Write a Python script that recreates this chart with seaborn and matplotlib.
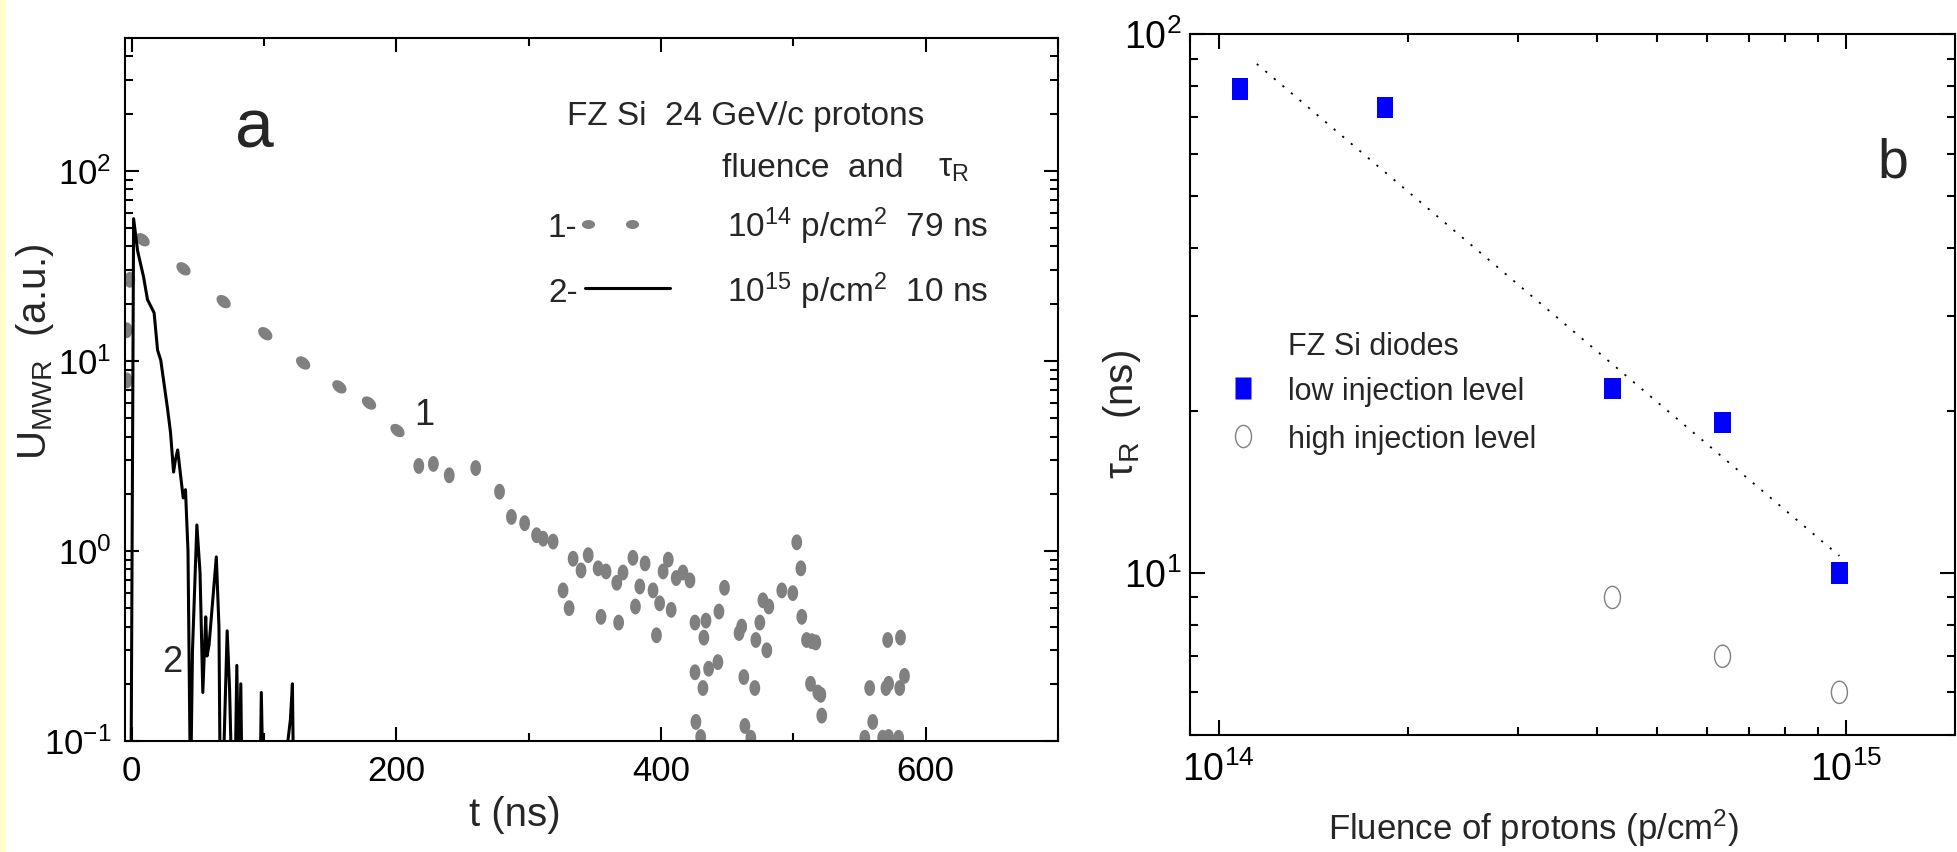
import numpy as np
import matplotlib
matplotlib.use("Agg")
import matplotlib.pyplot as plt
import seaborn as sns
from matplotlib.path import Path
from matplotlib.markers import MarkerStyle
from matplotlib.transforms import Affine2D
from matplotlib.lines import Line2D
from matplotlib.patches import Rectangle
from matplotlib.ticker import MultipleLocator, LogLocator, NullFormatter, FuncFormatter

# ---------------- data (panel a) ----------------
# curve 2 : 1e15 p/cm2 (solid black)
t_black = [-0.5, 1.5, 4.5, 9, 12, 17, 19.6, 22, 27, 29.4, 31.7, 33, 34.8, 37, 39, 40.7,
           42.6, 44.5, 46, 49.3, 51.7, 53.8, 56, 57, 58.5, 64, 66, 67, 68.7, 72.2, 74,
           76, 78, 79.5, 81, 82.5, 83.5, 97, 98, 99.5, 113, 120, 121.5, 122.5]
u_black = [0.05, 56, 38, 27.7, 21, 17.9, 11.4, 10.1, 5.7, 4.2, 2.6, 3.0, 3.4, 2.5, 1.9, 2.1,
           1.0, 0.05, 0.3, 1.37, 0.77, 0.18, 0.45, 0.28, 0.32, 0.93, 0.4, 0.05, 0.05, 0.38, 0.19,
           0.05, 0.05, 0.25, 0.05, 0.2, 0.05, 0.05, 0.18, 0.05, 0.05, 0.13, 0.2, 0.05]

# curve 1 : 1e14 p/cm2 (grey dots) - smooth decay part
t_gray_a = [8.3, 39.2, 69.5, 101, 129.6, 157, 179.4, 200.9]
u_gray_a = [43.4, 30.5, 20.5, 13.9, 9.75, 7.3, 6.0, 4.3]
# rising edge + noisy tail
t_gray_b = [-3.5, -3.5, -1.4, 217, 228, 240, 260, 278, 287, 297, 306, 311, 318.5,
            326, 330.6, 333.6, 339.6, 345, 352.5, 354.7, 358.5, 366.6, 368, 371.3, 378.8,
            380.7, 384, 388, 394, 396.6, 399, 401.6, 405.5, 407.7, 411.5, 416.6, 421.9,
            425.7, 425.7, 426.4, 430, 431.7, 432.4, 434, 436, 443, 443.8, 448, 459, 461,
            462.6, 463.4, 467.9, 470.9, 471.7, 474.7, 477, 480, 481.5, 491.3, 499.6, 502.6,
            505.7, 506.4, 510, 514, 517, 513, 518.5, 520.8, 521.5, 554, 557.7, 560, 567.5,
            570, 571.3, 572, 572, 579.6, 580.4, 581, 584]
u_gray_b = [7.9, 14.5, 26.7, 2.8, 2.87, 2.5, 2.73, 2.05, 1.51, 1.40, 1.21, 1.16, 1.12,
            0.62, 0.50, 0.91, 0.79, 0.95, 0.81, 0.45, 0.78, 0.68, 0.42, 0.77, 0.92,
            0.51, 0.65, 0.86, 0.62, 0.36, 0.53, 0.78, 0.90, 0.49, 0.72, 0.77, 0.70,
            0.42, 0.23, 0.126, 0.105, 0.19, 0.35, 0.43, 0.24, 0.26, 0.48, 0.64, 0.37, 0.40,
            0.217, 0.12, 0.104, 0.19, 0.34, 0.42, 0.55, 0.30, 0.51, 0.62, 0.60, 1.11,
            0.81, 0.45, 0.34, 0.335, 0.33, 0.20, 0.18, 0.175, 0.136, 0.104, 0.19, 0.126, 0.104,
            0.19, 0.34, 0.20, 0.105, 0.104, 0.19, 0.35, 0.22]

# ---------------- data (panel b) ----------------
fluence_low = [1.08e14, 1.84e14, 4.24e14, 6.35e14, 9.75e14]
tau_low = [79, 73, 22, 19, 10]
fluence_high = [4.24e14, 6.35e14, 9.75e14]
tau_high = [9.0, 7.0, 6.0]
fit_fluence = [1.15e14, 9.75e14]
fit_tau = [88, 10.75]

# ---------------- style ----------------
sns.set_theme(style="ticks")
plt.rcParams["font.family"] = ["Liberation Sans", "DejaVu Sans"]
plt.rcParams["mathtext.fontset"] = "custom"
plt.rcParams["mathtext.rm"] = "Liberation Sans"
plt.rcParams["mathtext.it"] = "Liberation Sans:italic"
plt.rcParams["mathtext.bf"] = "Liberation Sans:bold"
plt.rcParams["axes.linewidth"] = 1.5
plt.rcParams["axes.edgecolor"] = "black"

W, H = 1957, 852
def fx(p):
    return p / W
def fy(p):
    return 1 - p / H

GRAY = "#808080"
BLUE = "#0000FF"

th = np.linspace(0, 2 * np.pi, 48)
ell_h = Path(np.c_[np.cos(th), 0.68 * np.sin(th)], closed=True)
ell_v = Path(np.c_[0.68 * np.cos(th), np.sin(th)], closed=True)
circ_v = Path(np.c_[0.72 * np.cos(th), np.sin(th)], closed=True)
rect_v = Path([(-0.76, -1), (0.76, -1), (0.76, 1), (-0.76, 1), (-0.76, -1)], closed=True)

dot_tilt = MarkerStyle(ell_h, transform=Affine2D().rotate_deg(-40))
dot_vert = MarkerStyle(ell_v)

fig = plt.figure(figsize=(W / 100, H / 100), dpi=100)
fig.patch.set_facecolor("white")
fig.patches.append(Rectangle((0, 0), fx(6), 1, transform=fig.transFigure,
                             facecolor="#FFFFCC", edgecolor="none", zorder=0))

ax1 = fig.add_axes([fx(125), fy(741), fx(1058) - fx(125), fy(38) - fy(741)])
ax2 = fig.add_axes([fx(1190), fy(735), fx(1955) - fx(1190), fy(34) - fy(735)])

def pow_fmt(v, pos):
    return r"$\mathregular{10^{%d}}$" % int(round(np.log10(v)))

# ---------------- panel a ----------------
ax1.set_yscale("log")
sns.lineplot(x=t_black, y=u_black, ax=ax1, sort=False, estimator=None,
             color="black", lw=2.2)
sns.scatterplot(x=t_gray_a, y=u_gray_a, ax=ax1, marker=dot_tilt, s=135,
                color=GRAY, edgecolor="none", linewidth=0)
sns.scatterplot(x=t_gray_b, y=u_gray_b, ax=ax1, marker=dot_vert, s=130,
                color=GRAY, edgecolor="none", linewidth=0)
ax1.set_xlim(-5, 700)
ax1.set_ylim(0.1, 500)
ax1.xaxis.set_major_locator(MultipleLocator(200))
ax1.xaxis.set_minor_locator(MultipleLocator(100))
ax1.yaxis.set_major_locator(LogLocator(base=10))
ax1.yaxis.set_minor_locator(LogLocator(base=10, subs=np.arange(2, 10)))
ax1.yaxis.set_minor_formatter(NullFormatter())
ax1.yaxis.set_major_formatter(FuncFormatter(pow_fmt))
ax1.tick_params(which="both", direction="in", top=True, right=True, width=1.5,
                color="black", labelcolor="black")
ax1.tick_params(which="major", length=10, labelsize=25)
ax1.tick_params(which="minor", length=5.5)
ax1.tick_params(axis="x", which="major", pad=10)
ax1.tick_params(axis="y", which="major", pad=10)
ax1.set_xlabel("")
ax1.set_ylabel("")
for s in ax1.spines.values():
    s.set_linewidth(1.5)

fig.text(fx(515), fy(815), "t (ns)", fontsize=29, ha="center", va="center")
fig.text(fx(35), fy(352), r"U$_\mathregular{MWR}$  (a.u.)", fontsize=29,
         rotation=90, ha="center", va="center")
fig.text(fx(254), fy(130), "a", fontsize=50, ha="center", va="center")
fig.text(fx(424), fy(416), "1", fontsize=26, ha="center", va="center")
fig.text(fx(172), fy(662), "2", fontsize=26, ha="center", va="center")

fig.text(fx(567), fy(125), "FZ Si  24 GeV/c protons", fontsize=24, ha="left", va="baseline")
fig.text(fx(722), fy(177), "fluence  and", fontsize=24, ha="left", va="baseline")
fig.text(fx(938), fy(177), r"τ$_\mathregular{R}$", fontsize=24, ha="left", va="baseline")
fig.text(fx(548), fy(237), "1-", fontsize=24, ha="left", va="baseline")
fig.text(fx(548), fy(302), "2-", fontsize=24, ha="left", va="baseline")
fig.text(fx(727), fy(237), r"10$^\mathregular{14}$ p/cm$^\mathregular{2}$  79 ns", fontsize=24,
         ha="left", va="baseline")
fig.text(fx(727), fy(302), r"10$^\mathregular{15}$ p/cm$^\mathregular{2}$  10 ns", fontsize=24,
         ha="left", va="baseline")
fig.add_artist(Line2D([fx(588), fx(632)], [fy(224), fy(224)], ls="none",
                      marker=MarkerStyle(ell_h), ms=9.5, color=GRAY, mec="none"))
fig.add_artist(Line2D([fx(585), fx(670)], [fy(288), fy(288)], color="black", lw=2.2))

# ---------------- panel b ----------------
ax2.set_xscale("log")
ax2.set_yscale("log")
sns.lineplot(x=fit_fluence, y=fit_tau, ax=ax2, sort=False, estimator=None,
             color="black", lw=1.3, linestyle=(0, (1.2, 5)))
sns.scatterplot(x=fluence_low, y=tau_low, ax=ax2, marker=MarkerStyle(rect_v), s=15.5 ** 2,
                color=BLUE, edgecolor="none", linewidth=0, zorder=3)
sns.scatterplot(x=fluence_high, y=tau_high, ax=ax2, marker=MarkerStyle(circ_v), s=16 ** 2,
                facecolor="none", edgecolor=GRAY, linewidth=1.0, zorder=3)
ax2.set_xlim(9.0e13, 1.49e15)
ax2.set_ylim(5, 100)
ax2.xaxis.set_major_locator(LogLocator(base=10))
ax2.xaxis.set_minor_locator(LogLocator(base=10, subs=np.arange(2, 10)))
ax2.yaxis.set_major_locator(LogLocator(base=10))
ax2.yaxis.set_minor_locator(LogLocator(base=10, subs=np.arange(2, 10)))
for a in (ax2.xaxis, ax2.yaxis):
    a.set_minor_formatter(NullFormatter())
    a.set_major_formatter(FuncFormatter(pow_fmt))
ax2.tick_params(which="both", direction="in", top=True, right=True, width=1.5,
                color="black", labelcolor="black")
ax2.tick_params(which="major", length=11, labelsize=27)
ax2.tick_params(which="minor", length=6)
ax2.tick_params(axis="x", which="major", pad=12)
ax2.tick_params(axis="y", which="major", pad=6)
ax2.set_xlabel("")
ax2.set_ylabel("")
for s in ax2.spines.values():
    s.set_linewidth(1.5)

fig.text(fx(1533), fy(828), r"Fluence of protons (p/cm$^\mathregular{2}$)", fontsize=25,
         ha="center", va="center")
fig.text(fx(1122), fy(415), r"τ$_\mathregular{R}$  (ns)", fontsize=29, rotation=90,
         ha="center", va="center")
fig.text(fx(1893), fy(163), "b", fontsize=40, ha="center", va="center")
fig.text(fx(1288), fy(355), "FZ Si diodes", fontsize=22, ha="left", va="baseline")
fig.text(fx(1288), fy(400), "low injection level", fontsize=22, ha="left", va="baseline")
fig.text(fx(1288), fy(448), "high injection level", fontsize=22, ha="left", va="baseline")
fig.add_artist(Line2D([fx(1243)], [fy(388)], ls="none", marker=MarkerStyle(rect_v),
                      ms=15.5, color=BLUE, mec="none"))
fig.add_artist(Line2D([fx(1243)], [fy(436)], ls="none", marker=MarkerStyle(circ_v),
                      ms=16, mfc="none", mec=GRAY, mew=1.0))

fig.savefig("out.png", dpi=100)
